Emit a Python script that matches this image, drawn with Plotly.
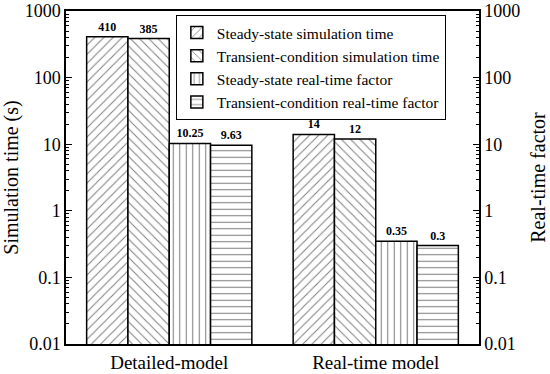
import plotly.graph_objects as go

categories = ["Detailed-model", "Real-time model"]
steady_sim = [410, 14]
transient_sim = [385, 12]
steady_rtf = [10.25, 0.35]
transient_rtf = [9.63, 0.3]
labels_steady_sim = ["410", "14"]
labels_transient_sim = ["385", "12"]
labels_steady_rtf = ["10.25", "0.35"]
labels_transient_rtf = ["9.63", "0.3"]
series_names = [
    "Steady-state simulation time",
    "Transient-condition simulation time",
    "Steady-state real-time factor",
    "Transient-condition real-time factor",
]
tick_vals = [0.01, 0.1, 1, 10, 100, 1000]
tick_text = ["0.01", "0.1", "1", "10", "100", "1000"]

FONT = "Liberation Serif"
series = [
    (steady_sim, labels_steady_sim, "/"),
    (transient_sim, labels_transient_sim, "\\"),
    (steady_rtf, labels_steady_rtf, "|"),
    (transient_rtf, labels_transient_rtf, "-"),
]

fig = go.Figure()
for (vals, labs, shape), name in zip(series, series_names):
    fig.add_trace(go.Bar(
        x=categories, y=vals, name=name, text=labs,
        textposition="outside", cliponaxis=False,
        textfont=dict(family=FONT, size=12, color="black", weight="bold"),
        marker=dict(color="white", line=dict(color="black", width=1.5),
                    pattern=dict(shape=shape, fgcolor="black", bgcolor="white",
                                 size=6.5, solidity=0.16)),
    ))

# invisible trace to carry the right-hand axis
fig.add_trace(go.Scatter(x=categories, y=steady_rtf, yaxis="y2", mode="markers",
                         marker=dict(opacity=0), showlegend=False, hoverinfo="skip"))

axis_common = dict(
    type="log", range=[-2, 3], tickvals=tick_vals, ticktext=tick_text,
    ticks="inside", ticklen=6, tickwidth=1, tickcolor="black",
    showline=True, linecolor="black", linewidth=1.5, showgrid=False, zeroline=False,
    tickfont=dict(family=FONT, size=18, color="black"), automargin=False,
    minor=dict(ticks="inside", ticklen=3, tickcolor="black", dtick="D1", showgrid=False),
)

fig.update_layout(
    width=550, height=374,
    margin=dict(l=66, r=71, t=11, b=30, autoexpand=False),
    paper_bgcolor="white", plot_bgcolor="white",
    barmode="group", bargap=0.2, bargroupgap=0,
    font=dict(family=FONT, color="black"),
    xaxis=dict(showline=True, linecolor="black", linewidth=1.5, mirror=True, automargin=False,
               ticks="", tickfont=dict(family=FONT, size=19, color="black")),
    yaxis=dict(title=dict(text="Simulation time (s)", font=dict(family=FONT, size=20), standoff=4),
               **axis_common),
    yaxis2=dict(title=dict(text="Real-time factor", font=dict(family=FONT, size=20), standoff=12),
                overlaying="y", side="right", **axis_common),
    legend=dict(x=0.266, y=0.988, xanchor="left", yanchor="top",
                bgcolor="white", bordercolor="black", borderwidth=1,
                font=dict(family=FONT, size=15.5, color="black"),
                tracegroupgap=0),
    showlegend=True,
)

fig.write_html("out.html", config={"displayModeBar": False},
               post_script="document.body.style.margin='0';")
